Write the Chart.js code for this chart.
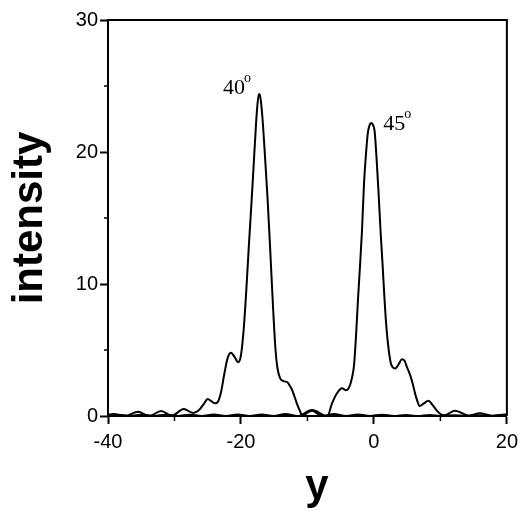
<!DOCTYPE html>
<html>
<head>
<meta charset="utf-8">
<script src="https://cdn.jsdelivr.net/npm/chart.js@4.4.1/dist/chart.umd.min.js"></script>
<style>
  html, body { margin: 0; padding: 0; background: #fff; }
  #wrap { width: 524px; height: 513px; }
</style>
</head>
<body>
<div id="wrap"><canvas id="chart" width="524" height="513"></canvas></div>
<script>
// curve peaked near -17 (40 deg)
const xA = [-40, -39.2, -37.4, -35.5, -33.8, -32.0, -30.4, -28.6, -27.2, -26.3, -25.6, -25.0, -24.4, -23.9,
    -23.5, -23.0, -22.5, -22.0, -21.5, -21.0, -20.4, -20.0, -19.6, -19.2, -18.8, -18.4, -18.0, -17.7,
    -17.5, -17.3, -17.1, -16.8, -16.4, -16.0, -15.6, -15.2, -14.8, -14.5, -14.1, -13.6, -13.0, -12.6,
    -12.3, -11.9, -11.5, -11.1, -10.8, -9.3, -7.8, -6.0, -4.2, -2.4, -0.6, 1.2, 3.0, 4.8, 6.6, 8.4,
    10.2, 12.0, 13.8, 15.6, 17.4, 19.2, 20];
const yA = [0.08, 0.15, 0.0, 0.33, 0.0, 0.38, 0.02, 0.53, 0.23, 0.45, 0.9, 1.29, 1.1, 0.96,
    1.05, 1.8, 3.2, 4.4, 4.8, 4.5, 4.07, 4.6, 6.5, 9.5, 13.0, 16.3, 19.8, 22.4,
    23.7, 24.4, 24.2, 22.8, 19.8, 16.5, 12.6, 8.5, 5.0, 3.6, 2.85, 2.65, 2.55, 2.25,
    1.97, 1.4, 0.83, 0.35, 0.05, 0.4, 0.0, 0.15, 0.0, 0.12, 0.0, 0.1, 0.0, 0.08, 0.0, 0.08,
    0.0, 0.06, 0.0, 0.06, 0.0, 0.05, 0.02];

// curve peaked near 0 (45 deg)
const xB = [-40, -38.5, -36.7, -34.9, -33.1, -31.3, -29.5, -27.7, -25.9, -24.1, -22.3, -20.5, -18.7,
    -16.9, -15.1, -13.3, -11.5, -9.3, -7.0, -6.3, -5.55, -4.8, -4.2, -3.7, -3.3, -3.0, -2.7, -2.4, -2.1,
    -1.8, -1.5, -1.2, -0.9, -0.6, -0.4, -0.2, 0.1, 0.4, 0.7, 1.0, 1.3, 1.6, 1.9, 2.2, 2.6, 3.2,
    3.7, 4.2, 4.6, 4.9, 5.3, 5.7, 6.1, 6.4, 6.9, 7.5, 8.2, 8.8, 9.4, 10.0, 10.6, 12.2, 14.3,
    15.9, 17.8, 19.8, 20];
const yB = [0.02, 0.1, 0.0, 0.1, 0.0, 0.1, 0.0, 0.1, 0.0, 0.12, 0.0, 0.12, 0.0,
    0.12, 0.0, 0.15, 0.0, 0.45, 0.0, 0.96, 1.72, 2.1, 1.95, 2.2, 2.9, 3.8, 6.0, 8.8, 11.3,
    14.0, 17.5, 19.8, 21.5, 22.1, 22.2, 22.1, 21.6, 19.5, 16.9, 14.0, 11.5, 8.8, 6.6, 5.1, 3.9, 3.6,
    3.9, 4.3, 4.2, 3.8, 3.3, 2.7, 1.9, 1.34, 0.75, 0.95, 1.16, 0.85, 0.45, 0.15, 0.05, 0.4, 0.02,
    0.2, 0.02, 0.12, 0.1];

const xMajorTicks = [-40, -20, 0, 20];
const xMinorTicks = [-30, -10, 10];
const yMajorTicks = [0, 10, 20, 30];
const yMinorTicks = [5, 15, 25];

const peakLabels = ['40', '45'];
const peakLabelX = [-22.7, 1.4];
const peakLabelY = [24.4, 21.7];

function toPoints(xs, ys) {
    return xs.map((x, i) => ({ x: x, y: ys[i] }));
}

// box frame, minor ticks, axis titles and peak labels
const decorations = {
    id: 'decorations',
    afterDraw(chart) {
        const ctx = chart.ctx;
        const area = chart.chartArea;
        const xs = chart.scales.x;
        const ys = chart.scales.y;
        ctx.save();
        ctx.strokeStyle = '#000';
        ctx.lineWidth = 2;
        ctx.beginPath();
        ctx.moveTo(area.left - 1, area.top);
        ctx.lineTo(area.right, area.top);
        ctx.lineTo(area.right, area.bottom);
        ctx.stroke();

        ctx.lineWidth = 1.5;
        ctx.beginPath();
        xMinorTicks.forEach(v => {
            const px = xs.getPixelForValue(v);
            ctx.moveTo(px, area.bottom);
            ctx.lineTo(px, area.bottom + 5);
        });
        yMinorTicks.forEach(v => {
            const py = ys.getPixelForValue(v);
            ctx.moveTo(area.left, py);
            ctx.lineTo(area.left - 4, py);
        });
        ctx.stroke();

        ctx.fillStyle = '#000';
        ctx.font = 'bold 42px "Liberation Sans", Arial, sans-serif';
        ctx.textAlign = 'center';
        ctx.textBaseline = 'alphabetic';
        ctx.fillText('y', 317, 499);
        ctx.save();
        ctx.translate(42, (area.top + area.bottom) / 2);
        ctx.rotate(-Math.PI / 2);
        ctx.fillText('intensity', 0, 0);
        ctx.restore();

        ctx.textAlign = 'left';
        peakLabels.forEach((txt, i) => {
            const px = xs.getPixelForValue(peakLabelX[i]);
            const py = ys.getPixelForValue(peakLabelY[i]);
            ctx.font = '22px "Liberation Serif", "Times New Roman", serif';
            ctx.fillText(txt, px, py);
            const w = ctx.measureText(txt).width;
            ctx.font = '14px "Liberation Serif", "Times New Roman", serif';
            ctx.fillText('o', px + w - 1, py - 12);
        });
        ctx.restore();
    }
};

const ctx = document.getElementById('chart').getContext('2d');
new Chart(ctx, {
    type: 'line',
    data: {
        datasets: [{
            label: '40',
            data: toPoints(xA, yA),
            borderColor: '#000',
            borderWidth: 2,
            pointRadius: 0,
            cubicInterpolationMode: 'monotone'
        }, {
            label: '45',
            data: toPoints(xB, yB),
            borderColor: '#000',
            borderWidth: 2,
            pointRadius: 0,
            cubicInterpolationMode: 'monotone'
        }]
    },
    plugins: [decorations],
    options: {
        responsive: false,
        animation: false,
        layout: { padding: { top: 20, right: 15, left: 0, bottom: 0 } },
        plugins: {
            legend: { display: false },
            tooltip: { enabled: false }
        },
        scales: {
            x: {
                type: 'linear',
                min: -40,
                max: 20,
                afterBuildTicks: scale => { scale.ticks = xMajorTicks.map(v => ({ value: v })); },
                afterFit: scale => { scale.height = 97; },
                ticks: {
                    color: '#000',
                    padding: 6,
                    maxRotation: 0,
                    font: { family: '"Liberation Sans", Arial, sans-serif', size: 20 }
                },
                grid: {
                    drawOnChartArea: false,
                    drawTicks: true,
                    tickLength: 8,
                    tickColor: '#000',
                    tickWidth: 2
                },
                border: { color: '#000', width: 2 }
            },
            y: {
                min: 0,
                max: 30,
                afterBuildTicks: scale => { scale.ticks = yMajorTicks.map(v => ({ value: v })); },
                afterFit: scale => { scale.width = 108; },
                ticks: {
                    color: '#000',
                    padding: 2,
                    font: { family: '"Liberation Sans", Arial, sans-serif', size: 20 }
                },
                grid: {
                    drawOnChartArea: false,
                    drawTicks: true,
                    tickLength: 8,
                    tickColor: '#000',
                    tickWidth: 2
                },
                border: { color: '#000', width: 2 }
            }
        }
    }
});
</script>
</body>
</html>
